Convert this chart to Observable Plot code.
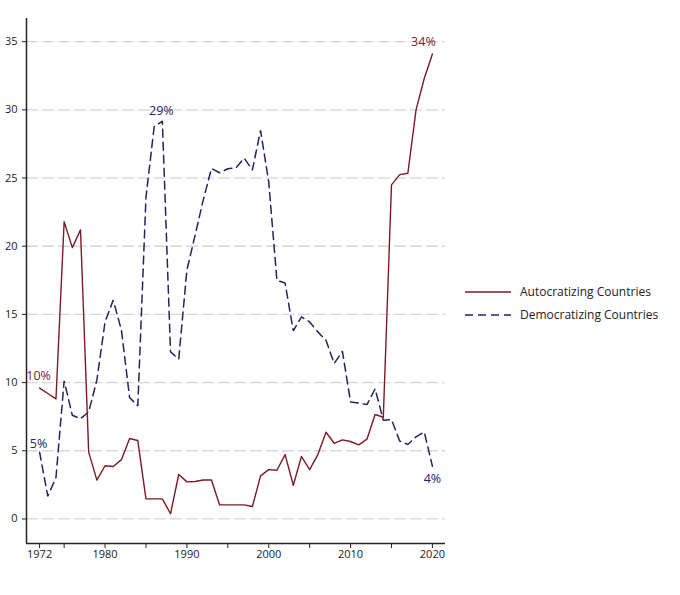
<!DOCTYPE html>
<html>
<head>
<meta charset="utf-8">
<script src="https://cdn.jsdelivr.net/npm/d3@7"></script>
<script src="https://cdn.jsdelivr.net/npm/@observablehq/plot@0.6"></script>
<style>
  html, body { margin: 0; padding: 0; background: #fff; }
  #wrap { position: relative; width: 680px; height: 595px; font-family: "Open Sans", "Noto Sans", sans-serif; }
  #legend { position: absolute; left: 465px; top: 280px; font-size: 12px; color: #222; }
  .row { display: flex; align-items: center; height: 23px; }
  .row svg { margin-right: 9px; }
</style>
</head>
<body>
<div id="wrap">
  <div id="chart"></div>
  <div id="legend"></div>
</div>
<script>
const years = d3.range(1972, 2021);
const autocratizing = [
  9.6, 9.2, 8.8, 21.8, 19.9, 21.2, 4.9, 2.85, 3.9, 3.85,
  4.35, 5.9, 5.75, 1.47, 1.47, 1.47, 0.38, 3.26, 2.72, 2.75,
  2.86, 2.86, 1.03, 1.03, 1.03, 1.03, 0.91, 3.16, 3.62, 3.57,
  4.72, 2.47, 4.58, 3.62, 4.72, 6.36, 5.55, 5.8, 5.68, 5.43,
  5.85, 7.66, 7.46, 24.5, 25.25, 25.35, 30.0, 32.3, 34.1
];
const democratizing = [
  4.9, 1.66, 3.03, 10.13, 7.6, 7.36, 7.85, 10.18, 14.45, 16.05,
  13.84, 8.9, 8.29, 23.6, 28.76, 29.18, 12.25, 11.72, 18.25, 20.8,
  23.4, 25.7, 25.39, 25.68, 25.75, 26.46, 25.58, 28.5, 24.7, 17.5,
  17.3, 13.8, 14.82, 14.45, 13.72, 13.1, 11.4, 12.3, 8.58, 8.5,
  8.39, 9.54, 7.24, 7.29, 5.72, 5.46, 6.02, 6.38, 3.87
];
const seriesNames = ["Autocratizing Countries", "Democratizing Countries"];
const seriesColors = ["#7a1c26", "#24235f"];
const yTicks = [0, 5, 10, 15, 20, 25, 30, 35];
const xTicks = [1972, 1975, 1980, 1985, 1990, 1995, 2000, 2005, 2010, 2015, 2020];
const xLabels = [1972, 1980, 1990, 2000, 2010, 2020];
// end-point annotations: [series index, year]
const annotations = [
  {s: 0, year: 1972, text: "10%", dx: -1, dy: -12},
  {s: 0, year: 2020, text: "34%", dx: -9, dy: -12},
  {s: 1, year: 1972, text: "5%", dx: -1, dy: -8},
  {s: 1, year: 1987, text: "29%", dx: -1, dy: -10},
  {s: 1, year: 2020, text: "4%", dx: 0, dy: 13}
];

const rows = [];
years.forEach((y, i) => {
  rows.push({year: y, value: autocratizing[i], series: seriesNames[0]});
  rows.push({year: y, value: democratizing[i], series: seriesNames[1]});
});
const seriesVals = [autocratizing, democratizing];
const annRows = annotations.map(a => ({
  year: a.year,
  value: seriesVals[a.s][years.indexOf(a.year)],
  text: a.text, dx: a.dx, dy: a.dy, color: seriesColors[a.s]
}));

const xDomain = [1970.4, 2021.6];
const yDomain = [-1.8, 36.7];

const chart = Plot.plot({
  width: 680,
  height: 595,
  marginLeft: 26,
  marginRight: 235,
  marginTop: 18,
  marginBottom: 52,
  style: {fontFamily: "'Open Sans', 'Noto Sans', sans-serif", fontSize: "11px", color: "#222", background: "#fff"},
  x: {domain: xDomain},
  y: {domain: yDomain},
  marks: [
    Plot.gridY(yTicks, {stroke: "#d6d6d6", strokeOpacity: 1, strokeWidth: 1.3, strokeDasharray: "12,4"}),
    Plot.axisY(yTicks, {tickSize: 4, tickPadding: 5, tickFormat: d => String(d), label: null, stroke: "#222", fill: "#222", fontSize: 11}),
    Plot.axisX(xTicks, {tickSize: 5, tickPadding: 2, tickFormat: d => xLabels.includes(d) ? String(d) : "", label: null, stroke: "#222", fill: "#222", fontSize: 11}),
    Plot.ruleX([xDomain[0]], {stroke: "#222", strokeWidth: 1.5}),
    Plot.ruleY([yDomain[0]], {stroke: "#222", strokeWidth: 1.5}),
    Plot.line(rows.filter(r => r.series === seriesNames[1]), {x: "year", y: "value", stroke: seriesColors[1], strokeWidth: 1.5, strokeDasharray: "8,5", strokeLinejoin: "miter"}),
    Plot.line(rows.filter(r => r.series === seriesNames[0]), {x: "year", y: "value", stroke: seriesColors[0], strokeWidth: 1.4}),
    ...annRows.map(a => Plot.text([a], {x: "year", y: "value", text: "text", dx: a.dx, dy: a.dy, fill: a.color, fontSize: 12.5}))
  ]
});
document.getElementById("chart").appendChild(chart);

const legend = document.getElementById("legend");
seriesNames.forEach((name, i) => {
  const row = document.createElement("div");
  row.className = "row";
  row.innerHTML = `<svg width="46" height="4"><line x1="0" y1="2" x2="46" y2="2" stroke="${seriesColors[i]}" stroke-width="1.6" ${i === 1 ? 'stroke-dasharray="8,5"' : ''}/></svg><span>${name}</span>`;
  legend.appendChild(row);
});
</script>
</body>
</html>
